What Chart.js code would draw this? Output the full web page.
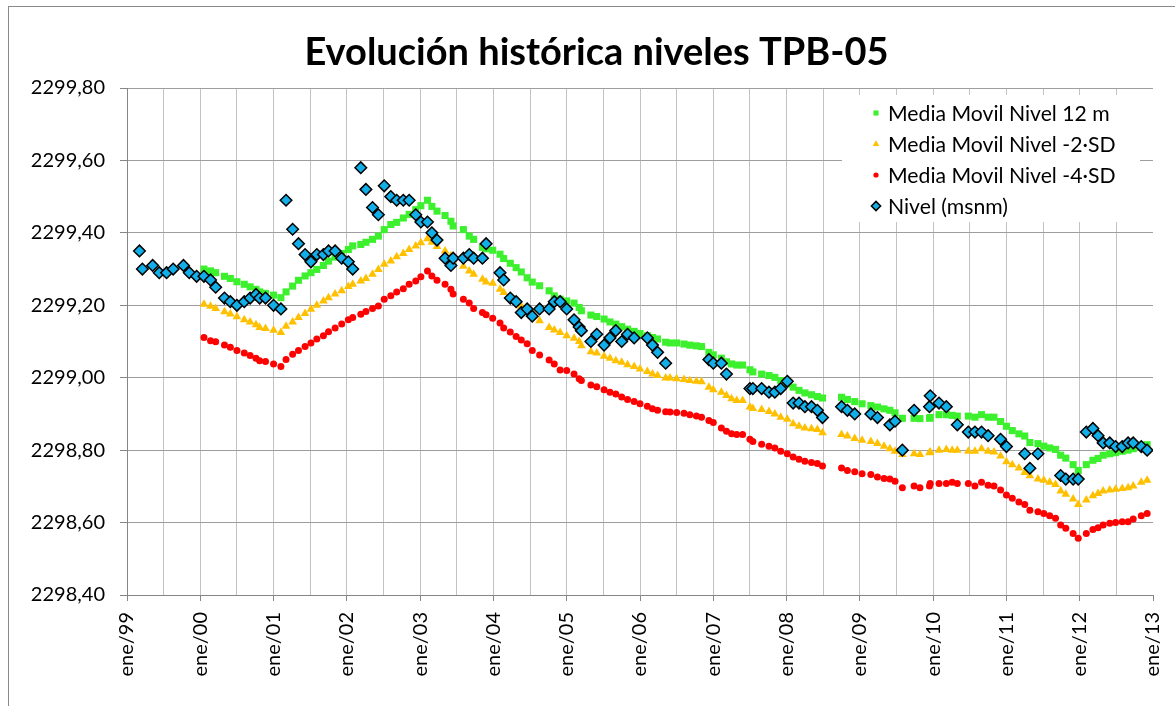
<!DOCTYPE html>
<html lang="es">
<head>
<meta charset="utf-8">
<title>Evolución histórica niveles TPB-05</title>
<script src="https://cdn.jsdelivr.net/npm/chart.js@4.4.1/dist/chart.umd.min.js"></script>
<style>
  html, body { margin: 0; padding: 0; background: #fff; }
  #wrap { width: 1175px; height: 706px; }
</style>
</head>
<body>
<div id="wrap"><canvas id="grafico" width="1175" height="706"></canvas></div>
<script>
// --------------------------------
// Datos
// --------------------------------

// fecha de cada medición, en años decimales
const fechas = [
    1999.17, 1999.21, 1999.35, 1999.44, 1999.54, 1999.63, 1999.77, 1999.85, 1999.95,
    2000.05, 2000.14, 2000.21, 2000.33, 2000.41, 2000.50, 2000.60, 2000.68, 2000.76, 2000.81, 2000.89,
    2001.00, 2001.10, 2001.17, 2001.26, 2001.34, 2001.43, 2001.51, 2001.59, 2001.68, 2001.75, 2001.84, 2001.93,
    2002.02, 2002.08, 2002.19, 2002.26, 2002.35, 2002.43, 2002.51, 2002.60, 2002.68, 2002.77, 2002.85, 2002.94,
    2003.01, 2003.10, 2003.16, 2003.23, 2003.34, 2003.42, 2003.45, 2003.59, 2003.67, 2003.73, 2003.85, 2003.90, 2003.99,
    2004.09, 2004.14, 2004.23, 2004.31, 2004.38, 2004.46, 2004.53, 2004.63, 2004.76, 2004.83, 2004.91,
    2005.00, 2005.10, 2005.17, 2005.20, 2005.33, 2005.41, 2005.51, 2005.59, 2005.67, 2005.75, 2005.83, 2005.92,
    2006.00, 2006.10, 2006.17, 2006.24, 2006.35, 2006.41, 2006.50, 2006.60, 2006.68, 2006.77, 2006.84, 2006.94,
    2007.00, 2007.11, 2007.18, 2007.25, 2007.32, 2007.40, 2007.50, 2007.54, 2007.66, 2007.76, 2007.84, 2007.92,
    2008.01, 2008.09, 2008.17, 2008.25, 2008.34, 2008.42, 2008.49, 2008.75, 2008.83, 2008.93,
    2009.03, 2009.15, 2009.24, 2009.33, 2009.41, 2009.48, 2009.58, 2009.74, 2009.82, 2009.95, 2009.96,
    2010.08, 2010.18, 2010.26, 2010.33, 2010.48, 2010.57, 2010.66, 2010.75, 2010.83, 2010.92,
    2011.00, 2011.08, 2011.17, 2011.25, 2011.32, 2011.43, 2011.51, 2011.59, 2011.67, 2011.74, 2011.81, 2011.91, 2011.98,
    2012.09, 2012.18, 2012.25, 2012.32, 2012.41, 2012.49, 2012.58, 2012.66, 2012.73, 2012.84, 2012.92
];

const nivel = [
    2299.35, 2299.30, 2299.31, 2299.29, 2299.29, 2299.30, 2299.31, 2299.29, 2299.28,
    2299.28, 2299.27, 2299.25, 2299.22, 2299.21, 2299.20, 2299.21, 2299.22, 2299.23, 2299.22, 2299.22,
    2299.20, 2299.19, 2299.49, 2299.41, 2299.37, 2299.34, 2299.32, 2299.34, 2299.34, 2299.35, 2299.35, 2299.33,
    2299.32, 2299.30, 2299.58, 2299.52, 2299.47, 2299.45, 2299.53, 2299.50, 2299.49, 2299.49, 2299.49, 2299.45,
    2299.43, 2299.43, 2299.40, 2299.38, 2299.33, 2299.31, 2299.33, 2299.33, 2299.34, 2299.33, 2299.33, 2299.37, null,
    2299.29, 2299.27, 2299.22, 2299.21, 2299.18, 2299.19, 2299.17, 2299.19, 2299.19, 2299.21, 2299.21,
    2299.19, 2299.16, 2299.14, 2299.13, 2299.10, 2299.12, 2299.09, 2299.11, 2299.13, 2299.10, 2299.12, 2299.11,
    null, 2299.11, 2299.09, 2299.07, 2299.04, null, null, null, null, null, null, 2299.05,
    2299.04, 2299.04, 2299.01, null, null, null, 2298.97, 2298.97, 2298.97, 2298.96, 2298.96, 2298.97,
    2298.99, 2298.93, 2298.93, 2298.92, 2298.92, 2298.91, 2298.89, 2298.92, 2298.91, 2298.90,
    null, 2298.90, 2298.89, null, 2298.87, 2298.88, 2298.80, 2298.91, null, 2298.92, 2298.95,
    2298.93, 2298.92, null, 2298.87, 2298.85, 2298.85, 2298.85, 2298.84, null, 2298.83,
    2298.81, null, null, 2298.79, 2298.75, 2298.79, null, null, null, 2298.73, 2298.72, 2298.72, 2298.72,
    2298.85, 2298.86, 2298.84, 2298.82, 2298.82, 2298.81, 2298.81, 2298.82, 2298.82, 2298.81, 2298.80
];

const media12 = [
    null, null, null, null, null, null, null, null, null,
    2299.300, 2299.295, 2299.290, 2299.280, 2299.274, 2299.265, 2299.258, 2299.251, 2299.244, 2299.237, 2299.233,
    2299.228, 2299.221, 2299.237, 2299.253, 2299.269, 2299.281, 2299.290, 2299.299, 2299.310, 2299.322, 2299.333, 2299.343,
    2299.354, 2299.364, 2299.368, 2299.374, 2299.382, 2299.391, 2299.409, 2299.423, 2299.429, 2299.441, 2299.451, 2299.464,
    2299.475, 2299.490, 2299.473, 2299.460, 2299.448, 2299.432, 2299.419, 2299.409, 2299.391, 2299.382, 2299.360, 2299.356, 2299.352,
    2299.341, 2299.329, 2299.316, 2299.304, 2299.292, 2299.276, 2299.264, 2299.254, 2299.240, 2299.226, 2299.217,
    2299.212, 2299.206, 2299.194, 2299.185, 2299.173, 2299.169, 2299.162, 2299.154, 2299.148, 2299.141, 2299.134, 2299.128,
    2299.122, 2299.116, 2299.111, 2299.107, 2299.098, 2299.096, 2299.096, 2299.093, 2299.090, 2299.088, 2299.086, 2299.070,
    2299.063, 2299.054, 2299.044, 2299.038, 2299.035, 2299.035, 2299.022, 2299.016, 2299.010, 2299.006, 2299.001, 2298.992,
    2298.983, 2298.974, 2298.965, 2298.958, 2298.953, 2298.948, 2298.944, 2298.946, 2298.940, 2298.934,
    2298.928, 2298.923, 2298.919, 2298.914, 2298.910, 2298.903, 2298.888, 2298.888, 2298.887, 2298.888, 2298.890,
    2298.898, 2298.898, 2298.896, 2298.894, 2298.894, 2298.891, 2298.898, 2298.891, 2298.891, 2298.879,
    2298.866, 2298.854, 2298.845, 2298.839, 2298.821, 2298.818, 2298.811, 2298.806, 2298.802, 2298.786, 2298.778, 2298.760, 2298.744,
    2298.760, 2298.772, 2298.777, 2298.786, 2298.790, 2298.793, 2298.797, 2298.800, 2298.804, 2298.809, 2298.815
];

const menos2SD = [
    null, null, null, null, null, null, null, null, null,
    2299.203, 2299.197, 2299.191, 2299.182, 2299.176, 2299.168, 2299.160, 2299.154, 2299.146, 2299.139, 2299.136,
    2299.131, 2299.125, 2299.142, 2299.154, 2299.166, 2299.177, 2299.189, 2299.200, 2299.212, 2299.221, 2299.231, 2299.240,
    2299.252, 2299.258, 2299.267, 2299.274, 2299.286, 2299.299, 2299.313, 2299.322, 2299.334, 2299.343, 2299.354, 2299.364,
    2299.373, 2299.384, 2299.374, 2299.362, 2299.350, 2299.336, 2299.327, 2299.308, 2299.295, 2299.286, 2299.272, 2299.264, 2299.261,
    2299.244, 2299.235, 2299.221, 2299.209, 2299.197, 2299.185, 2299.180, 2299.157, 2299.139, 2299.132, 2299.125,
    2299.116, 2299.109, 2299.100, 2299.088, 2299.072, 2299.068, 2299.059, 2299.054, 2299.047, 2299.043, 2299.036, 2299.031,
    2299.024, 2299.017, 2299.010, 2299.006, 2298.999, 2298.999, 2298.997, 2298.995, 2298.992, 2298.990, 2298.989, 2298.974,
    2298.967, 2298.960, 2298.951, 2298.942, 2298.937, 2298.937, 2298.919, 2298.915, 2298.912, 2298.907, 2298.900, 2298.891,
    2298.885, 2298.873, 2298.866, 2298.861, 2298.859, 2298.857, 2298.848, 2298.843, 2298.839, 2298.832,
    2298.827, 2298.824, 2298.818, 2298.811, 2298.804, 2298.797, 2298.788, 2298.790, 2298.788, 2298.793, 2298.795,
    2298.800, 2298.802, 2298.800, 2298.800, 2298.797, 2298.797, 2298.804, 2298.797, 2298.795, 2298.784,
    2298.768, 2298.760, 2298.751, 2298.738, 2298.729, 2298.720, 2298.717, 2298.711, 2298.705, 2298.687, 2298.678, 2298.665, 2298.650,
    2298.662, 2298.674, 2298.680, 2298.687, 2298.690, 2298.692, 2298.694, 2298.696, 2298.701, 2298.711, 2298.717
];

const menos4SD = [
    null, null, null, null, null, null, null, null, null,
    2299.111, 2299.102, 2299.099, 2299.090, 2299.084, 2299.075, 2299.068, 2299.061, 2299.054, 2299.047, 2299.045,
    2299.038, 2299.031, 2299.050, 2299.065, 2299.075, 2299.086, 2299.096, 2299.107, 2299.116, 2299.127, 2299.137, 2299.148,
    2299.160, 2299.166, 2299.175, 2299.183, 2299.191, 2299.198, 2299.217, 2299.226, 2299.237, 2299.246, 2299.258, 2299.267,
    2299.279, 2299.295, 2299.281, 2299.269, 2299.258, 2299.244, 2299.231, 2299.217, 2299.206, 2299.191, 2299.180, 2299.174, 2299.164,
    2299.151, 2299.137, 2299.126, 2299.114, 2299.104, 2299.094, 2299.075, 2299.063, 2299.049, 2299.038, 2299.021,
    2299.020, 2299.010, 2298.997, 2298.992, 2298.980, 2298.975, 2298.967, 2298.960, 2298.955, 2298.947, 2298.940, 2298.934,
    2298.928, 2298.921, 2298.914, 2298.910, 2298.906, 2298.905, 2298.904, 2298.902, 2298.898, 2298.894, 2298.891, 2298.882,
    2298.876, 2298.861, 2298.852, 2298.845, 2298.843, 2298.843, 2298.830, 2298.824, 2298.816, 2298.811, 2298.806, 2298.797,
    2298.790, 2298.781, 2298.775, 2298.769, 2298.766, 2298.763, 2298.756, 2298.751, 2298.744, 2298.740,
    2298.735, 2298.733, 2298.726, 2298.722, 2298.720, 2298.714, 2298.696, 2298.701, 2298.696, 2298.701, 2298.708,
    2298.708, 2298.708, 2298.711, 2298.708, 2298.708, 2298.701, 2298.711, 2298.703, 2298.701, 2298.690,
    2298.676, 2298.667, 2298.657, 2298.650, 2298.634, 2298.630, 2298.625, 2298.619, 2298.612, 2298.593, 2298.584, 2298.570, 2298.557,
    2298.570, 2298.581, 2298.586, 2298.593, 2298.598, 2298.600, 2298.602, 2298.602, 2298.610, 2298.619, 2298.625
];

// ejes
const anios = [1999, 2000, 2001, 2002, 2003, 2004, 2005, 2006, 2007, 2008, 2009, 2010, 2011, 2012, 2013];
const etiquetasX = ['ene/99', 'ene/00', 'ene/01', 'ene/02', 'ene/03', 'ene/04', 'ene/05', 'ene/06',
    'ene/07', 'ene/08', 'ene/09', 'ene/10', 'ene/11', 'ene/12', 'ene/13'];
const valoresY = [2298.4, 2298.6, 2298.8, 2299.0, 2299.2, 2299.4, 2299.6, 2299.8];
const etiquetasY = ['2298,40', '2298,60', '2298,80', '2299,00', '2299,20', '2299,40', '2299,60', '2299,80'];

const fuente = 'Lato, "Open Sans", sans-serif';

// --------------------------------
// Funciones
// --------------------------------

function puntos(serie) {
    let out = [];
    for (let i = 0; i < fechas.length; i++) {
        if (serie[i] !== null) out.push({ x: fechas[i], y: serie[i] });
    }
    return out;
}

// fondo blanco, marco del gráfico y título centrado en el marco
const marco = {
    id: 'marco',
    afterLayout(chart) {
        if (chart.titleBlock) chart.titleBlock.left = 40;
    },
    beforeDraw(chart) {
        const ctx = chart.ctx;
        ctx.save();
        ctx.fillStyle = '#ffffff';
        ctx.fillRect(0, 0, chart.width, chart.height);
        ctx.strokeStyle = '#8a8a8a';
        ctx.lineWidth = 1;
        ctx.strokeRect(8.5, 6.5, chart.width + 20, chart.height + 20);
        ctx.restore();
    }
};

// leyenda dentro del área de trazado, arriba a la derecha
const leyenda = {
    id: 'leyenda',
    afterDatasetsDraw(chart) {
        const ctx = chart.ctx;
        const orden = [0, 1, 2, 3];
        const tam = [3.6, 3.8, 2.6, 4.6];
        ctx.save();
        ctx.fillStyle = '#ffffff';
        ctx.fillRect(842, 95, 298, 127);
        ctx.font = '21.2px ' + fuente;
        ctx.textBaseline = 'middle';
        ctx.textAlign = 'left';
        orden.forEach((d, i) => {
            const ds = chart.data.datasets[d];
            const y = 113 + i * 31;
            ctx.fillStyle = ds.backgroundColor;
            ctx.strokeStyle = ds.borderColor;
            ctx.lineWidth = ds.borderWidth;
            Chart.helpers.drawPoint(ctx, {
                pointStyle: ds.pointStyle,
                radius: tam[i],
                rotation: 0,
                borderWidth: ds.borderWidth
            }, 876, y);
            ctx.fillStyle = '#000000';
            ctx.fillText(ds.label, 888, y + 1);
        });
        ctx.restore();
    }
};

// --------------------------------
// Gráfico
// --------------------------------

const grafico = new Chart(document.getElementById('grafico'), {
    type: 'scatter',
    data: {
        datasets: [{
            label: 'Media Movil Nivel 12 m',
            data: puntos(media12),
            pointStyle: 'rect',
            pointRadius: 5,
            backgroundColor: '#3cf02d',
            borderColor: '#3cf02d',
            borderWidth: 0,
            order: 1
        }, {
            label: 'Media Movil Nivel -2·SD',
            data: puntos(menos2SD),
            pointStyle: 'triangle',
            pointRadius: 5,
            backgroundColor: '#ffc000',
            borderColor: '#ffc000',
            borderWidth: 0,
            order: 2
        }, {
            label: 'Media Movil Nivel -4·SD',
            data: puntos(menos4SD),
            pointStyle: 'circle',
            pointRadius: 3.5,
            backgroundColor: '#ff0000',
            borderColor: '#ff0000',
            borderWidth: 0,
            order: 3
        }, {
            label: 'Nivel (msnm)',
            data: puntos(nivel),
            pointStyle: 'rectRot',
            pointRadius: 5.8,
            backgroundColor: '#12aee8',
            borderColor: '#000000',
            borderWidth: 1.5,
            order: 0
        }]
    },
    options: {
        responsive: false,
        animation: false,
        events: [],
        layout: {
            padding: { left: 0, right: 22, top: 0, bottom: 0 }
        },
        plugins: {
            legend: { display: false },
            tooltip: { enabled: false },
            title: {
                display: true,
                text: 'Evolución histórica niveles TPB-05',
                color: '#000000',
                font: { family: fuente, size: 38, weight: 'bold', lineHeight: 1.2 },
                padding: { top: 30, bottom: 12.4 }
            }
        },
        scales: {
            x: {
                type: 'linear',
                min: anios[0],
                max: anios[anios.length - 1],
                afterBuildTicks: function(scale) {
                    let t = [];
                    anios.forEach((a, i) => {
                        t.push({ value: a });
                        if (i < anios.length - 1) t.push({ value: a + 0.5 });
                    });
                    scale.ticks = t;
                },
                afterFit: function(scale) {
                    scale.height = 111;
                    scale.paddingLeft = 0;
                    scale.paddingRight = 0;
                },
                ticks: {
                    autoSkip: false,
                    minRotation: 90,
                    maxRotation: 90,
                    padding: 11,
                    color: '#000000',
                    font: { family: fuente, size: 20 },
                    callback: function(v) {
                        const i = anios.indexOf(v);
                        return i >= 0 ? etiquetasX[i] : '';
                    }
                },
                grid: {
                    color: ctx => (ctx.tick && ctx.tick.value === anios[anios.length - 1]) ? 'rgba(0,0,0,0)' : '#c3c3c3',
                    tickColor: ctx => (ctx.tick && Number.isInteger(ctx.tick.value)) ? '#868686' : 'rgba(0,0,0,0)',
                    tickLength: 6,
                    lineWidth: 1
                },
                border: { color: '#868686', width: 1 }
            },
            y: {
                type: 'linear',
                min: valoresY[0],
                max: valoresY[valoresY.length - 1],
                afterBuildTicks: function(scale) {
                    scale.ticks = valoresY.map(v => ({ value: v }));
                },
                afterFit: function(scale) {
                    scale.width = 127;
                    scale.paddingTop = 0;
                    scale.paddingBottom = 0;
                },
                ticks: {
                    padding: 15,
                    color: '#000000',
                    font: { family: fuente, size: 20 },
                    callback: function(v, i) {
                        return etiquetasY[i];
                    }
                },
                grid: {
                    color: '#9e9e9e',
                    tickColor: '#868686',
                    tickLength: 7,
                    lineWidth: 1
                },
                border: { color: '#868686', width: 1 }
            }
        }
    },
    plugins: [marco, leyenda]
});
</script>
</body>
</html>
